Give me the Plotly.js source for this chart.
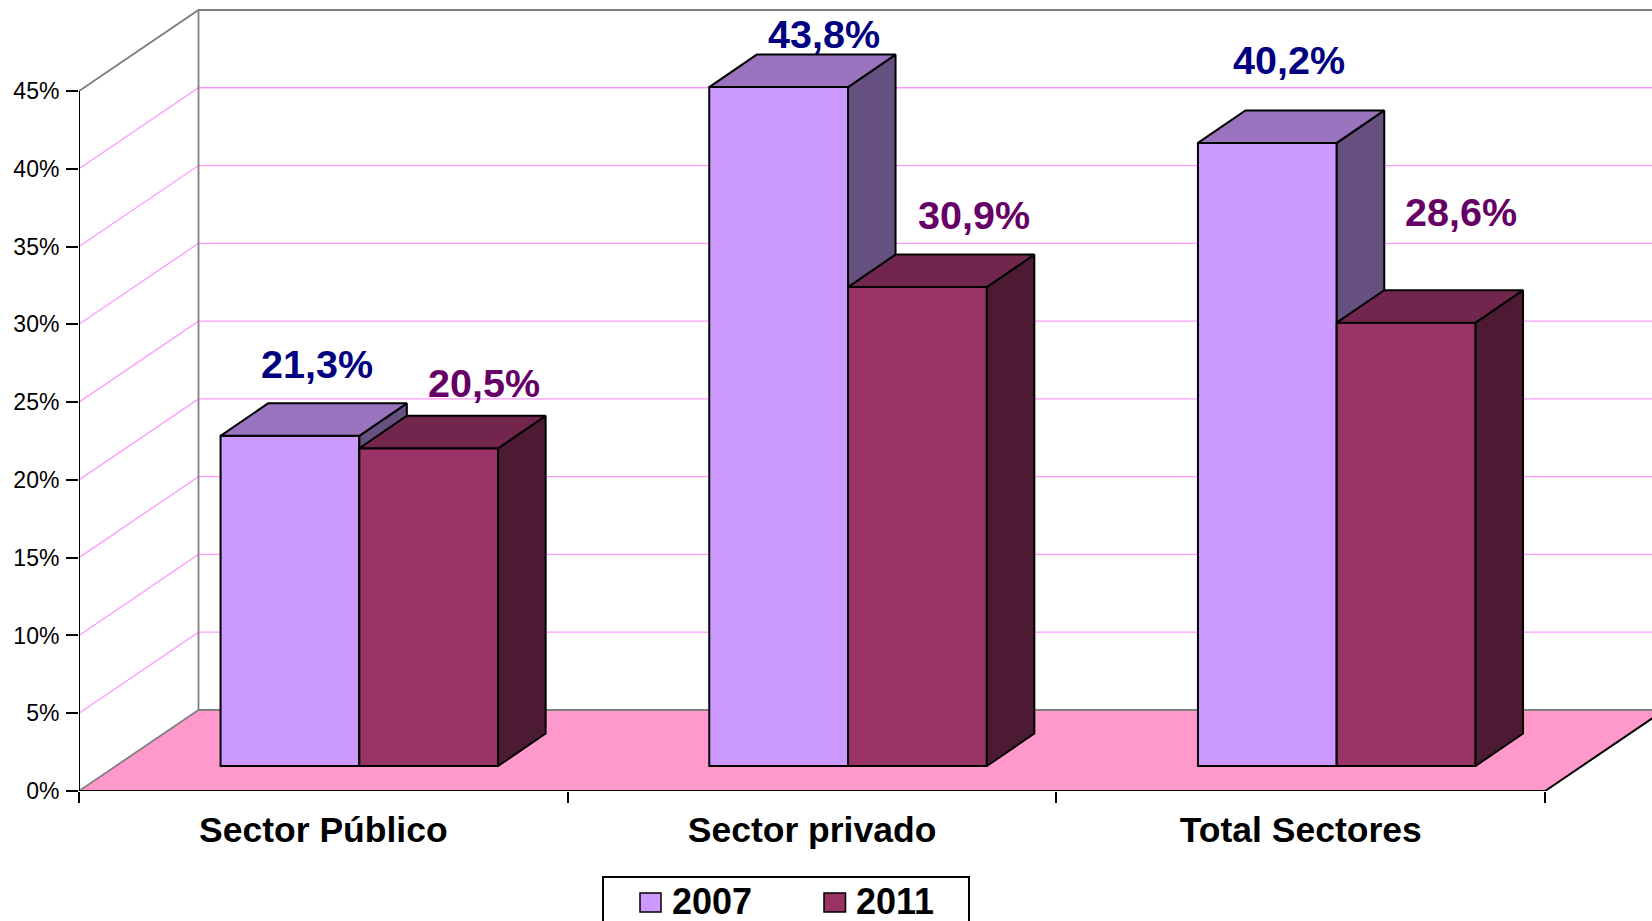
<!DOCTYPE html>
<html>
<head>
<meta charset="utf-8">
<script src="https://cdn.plot.ly/plotly-3.0.1.min.js"></script>
<style>html,body{margin:0;padding:0;background:#fff;overflow:hidden}</style>
</head>
<body>
<div id="chart" style="width:1652px;height:921px"></div>
<script>
// --- data ---
var categories = ['Sector Público', 'Sector privado', 'Total Sectores'];
var values2007 = [21.3, 43.8, 40.2];
var values2011 = [20.5, 30.9, 28.6];
var labels2007 = ['21,3%', '43,8%', '40,2%'];
var labels2011 = ['20,5%', '30,9%', '28,6%'];
var yTicks = [0, 5, 10, 15, 20, 25, 30, 35, 40, 45];
var yTickText = ['0%', '5%', '10%', '15%', '20%', '25%', '30%', '35%', '40%', '45%'];
var seriesNames = ['2007', '2011'];

// --- label nudges (px) as placed in the reference ---
var shiftX2007 = [27, 45, 21.5];
var shiftY2007 = [72, 53, 83];
var shiftX2011 = [55, 57, 55];
var shiftY2011 = [65, 72, 110.5];

// --- geometry of the pseudo-3D box, in axis units ---
var PX_PER_CAT = 488.7, PX_PER_PCT = 15.556, BAR_PX_PER_PCT = 15.5;
var L = 79, ZERO_Y = 791, W = 1652, H = 921;
var DX = 119.5 / PX_PER_CAT, DY = 81 / PX_PER_PCT;  // full box depth (wall axes)
var BAR_X0 = 36 / PX_PER_CAT, BAR_Y0 = 25 / BAR_PX_PER_PCT;   // front face offset
var BAR_DX = 47.5 / PX_PER_CAT, BAR_DY = 32.5 / BAR_PX_PER_PCT;   // bar depth
var BW = 0.284;                                     // bar width
var xMax = (W - L) / PX_PER_CAT, yMax = ZERO_Y / PX_PER_PCT, yMaxBar = ZERO_Y / BAR_PX_PER_PCT;
var yTop = yTicks[yTicks.length - 1], nCat = categories.length;

var col07 = {front: '#CC99FF', top: '#9A73BF', side: '#66507F', text: '#000080'};
var col11 = {front: '#993366', top: '#73264D', side: '#4D1A33', text: '#660066'};
var FONT = '"Liberation Sans", Arial, sans-serif';

function polyTrace(xs, ys, fill, ax, ay, lw, color) {
  return {type: 'scatter', mode: 'lines', x: xs, y: ys, xaxis: ax, yaxis: ay,
    fill: fill ? 'toself' : 'none', fillcolor: fill || undefined,
    line: {color: color || '#000', width: lw === undefined ? 2 : lw},
    hoverinfo: 'skip', showlegend: false, cliponaxis: false};
}
function barCentre(i, sign) { return i + 0.5 + BAR_X0 + sign * BW / 2; }

function series(vals, sign, c, name, ax, ay) {
  var sx = [], sy = [], tx = [], ty = [], cx = [];
  vals.forEach(function (v, i) {
    var c0 = barCentre(i, sign), l = c0 - BW / 2, r = c0 + BW / 2;
    var b0 = BAR_Y0, t0 = b0 + v;
    cx.push(c0);
    sx.push(r, r + BAR_DX, r + BAR_DX, r, r, null);
    sy.push(b0, b0 + BAR_DY, t0 + BAR_DY, t0, b0, null);
    tx.push(l, l + BAR_DX, r + BAR_DX, r, l, null);
    ty.push(t0, t0 + BAR_DY, t0 + BAR_DY, t0, t0, null);
  });
  return [
    {type: 'bar', name: name, x: cx, y: vals, base: vals.map(function () { return BAR_Y0; }),
      width: BW, xaxis: ax, yaxis: ay, marker: {color: c.front, line: {color: '#000', width: 2}},
      hovertemplate: name + ': %{y}%<extra></extra>', showlegend: false},
    polyTrace(sx, sy, c.side, ax, ay),
    polyTrace(tx, ty, c.top, ax, ay)
  ];
}

// --- walls, floor and gridlines ---
var traces = [];
traces.push(polyTrace([0, DX, nCat + DX, nCat, 0], [0, DY, DY, 0, 0], '#FF99CC', 'x', 'y', 0));
var gx = [], gy = [];
yTicks.forEach(function (t) { gx.push(0, DX, xMax + 1, null); gy.push(t, t + DY, t + DY, null); });
traces.push(polyTrace(gx, gy, null, 'x', 'y', 1.3, '#FF99FF'));
traces.push(polyTrace(
  [0, DX, null, 0, DX, xMax + 1, null, DX, DX, null, DX, xMax + 1],
  [0, DY, null, yTop, yTop + DY, yTop + DY, null, DY, yTop + DY, null, DY, DY],
  null, 'x', 'y', 1.8, '#808080'));
traces.push(polyTrace([0, 0, null, 0, nCat, nCat + DX], [0, yTop, null, 0, 0, DY], null, 'x', 'y', 2, '#000'));

traces = traces.concat(series(values2007, -1, col07, seriesNames[0], 'x2', 'y2'));
traces = traces.concat(series(values2011, 1, col11, seriesNames[1], 'x3', 'y3'));

// --- data labels ---
var annotations = [];
function addLabels(vals, labs, sign, c, sx, sy) {
  vals.forEach(function (v, i) {
    annotations.push({xref: 'x2', yref: 'y2', x: barCentre(i, sign), y: BAR_Y0 + v, text: labs[i],
      showarrow: false, xanchor: 'center', yanchor: 'middle', xshift: sx[i], yshift: sy[i],
      font: {family: FONT, size: 39.5, color: c.text, weight: 700}});
  });
}
addLabels(values2007, labels2007, -1, col07, shiftX2007, shiftY2007);
addLabels(values2011, labels2011, 1, col11, shiftX2011, shiftY2011);

// --- legend box, cut by the bottom of the page as in the reference ---
function pxX(p) { return (p - L) / (W - L); }
function pxY(p) { return (ZERO_Y - p) / ZERO_Y; }
var shapes = [{type: 'rect', xref: 'paper', yref: 'paper', x0: pxX(603), x1: pxX(969), y0: pxY(940), y1: pxY(877),
  line: {color: '#000', width: 2}, fillcolor: '#fff', layer: 'above'}];
[[640, 661, col07, 673], [824, 845.5, col11, 857]].forEach(function (e, k) {
  shapes.push({type: 'rect', xref: 'paper', yref: 'paper', x0: pxX(e[0]), x1: pxX(e[1]), y0: pxY(912), y1: pxY(893),
    line: {color: '#000', width: 1.5}, fillcolor: e[2].front, layer: 'above'});
  annotations.push({xref: 'paper', yref: 'paper', x: pxX(e[3]), y: pxY(901.5), text: seriesNames[k], showarrow: false,
    xanchor: 'left', yanchor: 'middle', xshift: -3, font: {family: FONT, size: 36, color: '#000', weight: 700}});
});

var hidden = function (ov, rng, anchor) {
  return {overlaying: ov, range: rng, anchor: anchor, visible: false, fixedrange: true};
};
var layout = {
  width: W, height: H, paper_bgcolor: '#fff', plot_bgcolor: '#fff', barmode: 'overlay', showlegend: false,
  margin: {l: L, r: 0, t: 0, b: H - ZERO_Y, pad: 0, autoexpand: false},
  font: {family: FONT, color: '#000'},
  xaxis: {range: [0, xMax], tickmode: 'array', tickvals: categories.map(function (_, i) { return i + 0.5; }),
    ticktext: categories, ticks: '', showgrid: false, zeroline: false, showline: false, fixedrange: true,
    tickfont: {family: FONT, size: 35.5, color: '#000', weight: 700}, ticklabelstandoff: 14},
  yaxis: {range: [0, yMax], tickmode: 'array', tickvals: yTicks, ticktext: yTickText, ticks: 'outside', ticklen: 12,
    tickwidth: 2, tickcolor: '#000', showgrid: false, zeroline: false, showline: false, fixedrange: true,
    tickfont: {family: FONT, size: 23, color: '#000'}, ticklabelstandoff: 2},
  xaxis2: {overlaying: 'x', anchor: 'y2', range: [0, xMax], tickmode: 'array',
    tickvals: categories.map(function (_, i) { return i; }).concat(nCat), showticklabels: false,
    ticks: 'outside', ticklen: 11, tickwidth: 2, tickcolor: '#000', showgrid: false, zeroline: false,
    showline: false, fixedrange: true},
  yaxis2: hidden('y', [0, yMaxBar], 'x2'),
  xaxis3: hidden('x', [0, xMax], 'y3'),
  yaxis3: hidden('y', [0, yMaxBar], 'x3'),
  shapes: shapes,
  annotations: annotations
};

Plotly.newPlot('chart', traces, layout, {displayModeBar: false, staticPlot: true});
</script>
</body>
</html>
